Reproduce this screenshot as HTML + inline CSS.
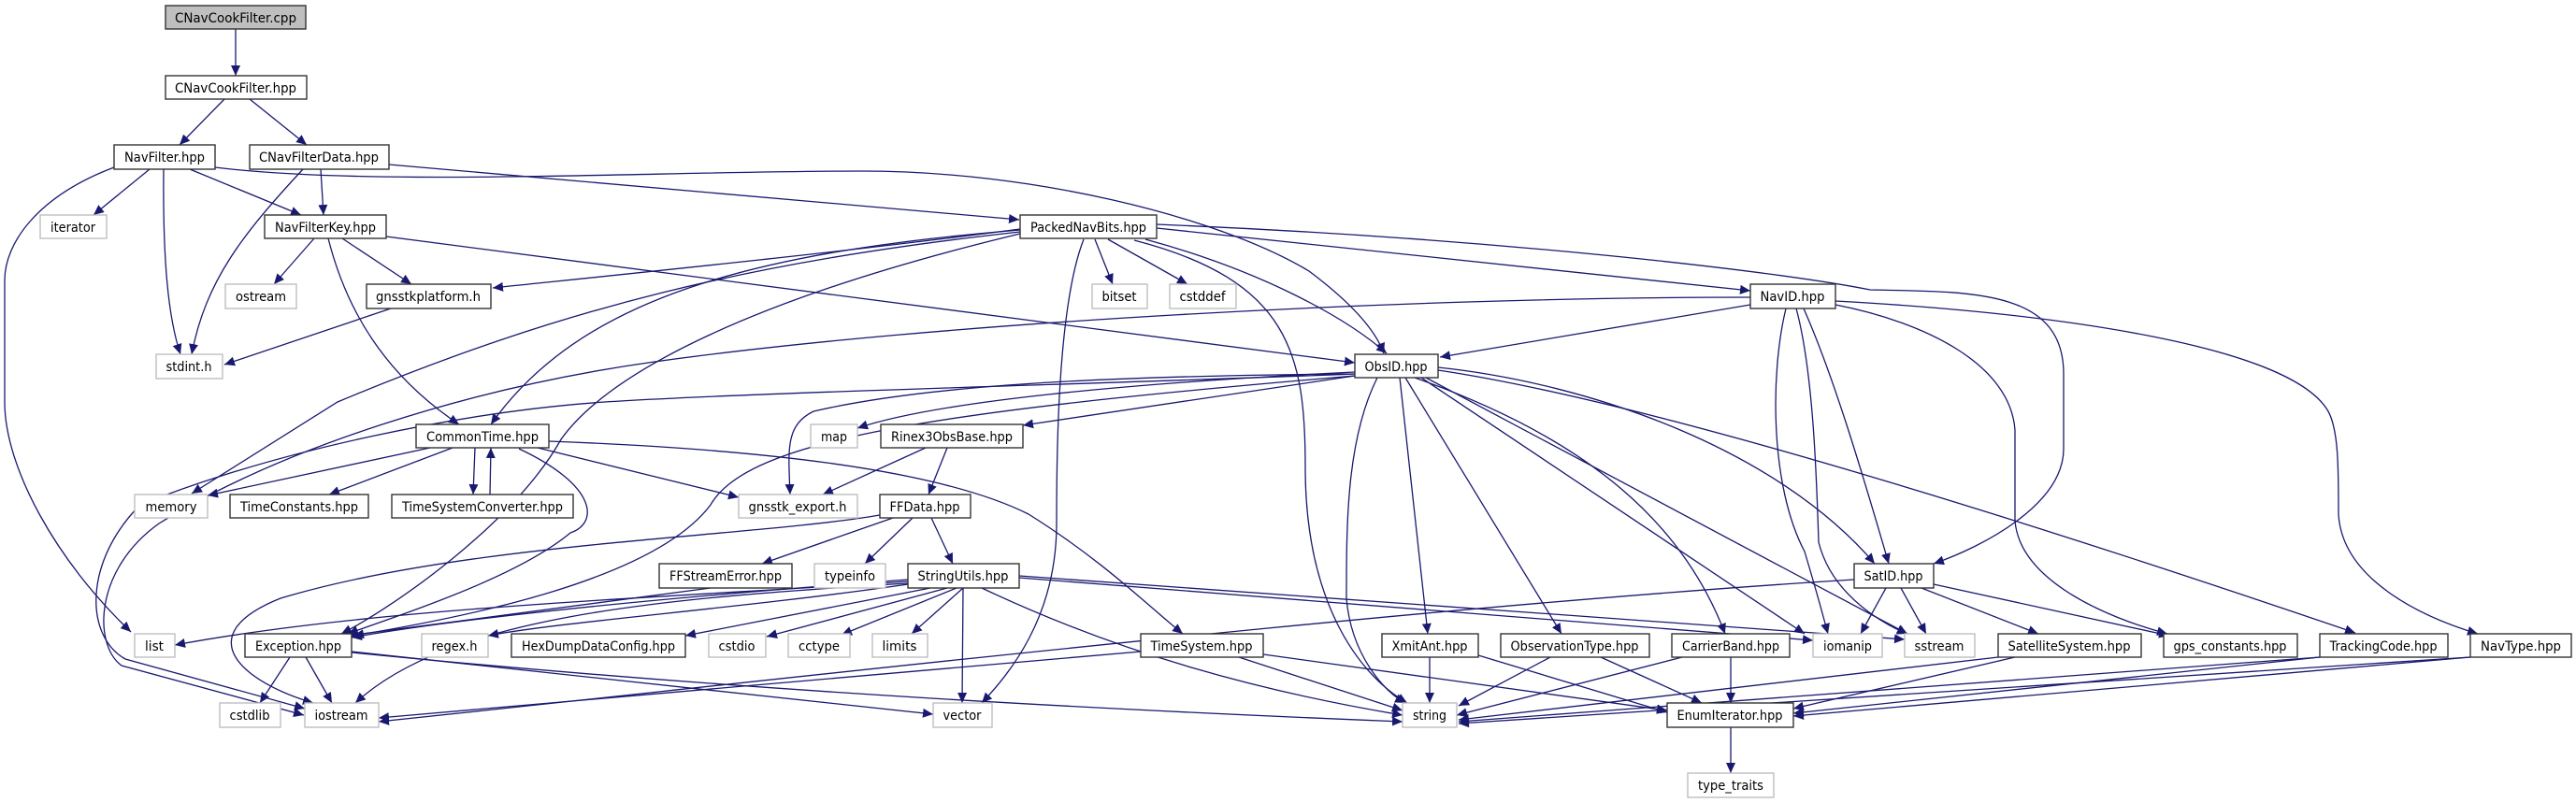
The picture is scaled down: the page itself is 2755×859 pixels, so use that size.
<!DOCTYPE html>
<html><head><meta charset="utf-8"><style>
html,body{margin:0;padding:0;background:#fff;}
svg{display:block;}
text{font-family:"DejaVu Sans","Liberation Sans",sans-serif;font-size:14px;fill:#000;}
.e{fill:none;stroke:#191970;stroke-width:1.3;marker-end:url(#ah);}
.n{fill:#fff;stroke:#333;stroke-width:1.4;}
.g{fill:#fff;stroke:#bfbfbf;stroke-width:1.4;}
</style></head><body>
<svg width="2755" height="859" viewBox="0 0 2755 859" xmlns="http://www.w3.org/2000/svg">
<defs><marker id="ah" markerUnits="userSpaceOnUse" markerWidth="14" markerHeight="12" refX="11" refY="5" orient="auto"><path d="M0,0 L11,5 L0,10 z" fill="#191970"/></marker></defs>
<g>
<path class="e" d="M252,31 L252,81"/>
<path class="e" d="M240,106 L192,155"/>
<path class="e" d="M267,106 L328,155"/>
<path class="e" d="M160,181 L100,230"/>
<path class="e" d="M175,181 C174,280 180,340 193,379"/>
<path class="e" d="M203,181 L322,230"/>
<path class="e" d="M122,179 C40,210 5,260 5,300 L5,430 C5,500 60,600 140,676"/>
<path class="e" d="M230,179 C400,200 700,183 923,183 C1100,183 1300,230 1400,290 C1440,320 1470,350 1480,378"/>
<path class="e" d="M343,181 L346,230"/>
<path class="e" d="M324,181 C260,250 220,300 205,379"/>
<path class="e" d="M416,176 L1090,235"/>
<path class="e" d="M336,255 L293,304"/>
<path class="e" d="M366,255 L440,304"/>
<path class="e" d="M351,255 C370,330 410,400 491,454"/>
<path class="e" d="M413,253 L1449,388"/>
<path class="e" d="M418,330 L240,390"/>
<path class="e" d="M1091,245 C900,270 700,290 527,308"/>
<path class="e" d="M1091,246 C800,270 620,320 525,454"/>
<path class="e" d="M1091,250 C800,320 650,400 600,470 C550,560 420,650 365,678"/>
<path class="e" d="M1091,248 C800,280 600,330 361,430 L205,528"/>
<path class="e" d="M1171,256 L1190,304"/>
<path class="e" d="M1185,256 L1270,304"/>
<path class="e" d="M1159,256 C1130,330 1130,500 1130,560 C1130,660 1080,720 1050,752"/>
<path class="e" d="M1213,257 C1380,300 1396,380 1396,500 C1396,640 1450,720 1505,752"/>
<path class="e" d="M1225,256 C1350,290 1440,340 1483,378"/>
<path class="e" d="M1237,244 L1872,311"/>
<path class="e" d="M1237,240 C1600,255 1900,290 2000,310 C2110,312 2207,310 2207,400 L2207,480 C2207,540 2120,585 2068,603"/>
<path class="e" d="M1872,326 L1540,382"/>
<path class="e" d="M1872,318 C1500,318 1000,345 700,387 C500,415 300,480 170,560 C100,610 100,690 130,712 L325,765"/>
<path class="e" d="M1449,400 C1200,410 800,420 647,430 C500,440 300,480 150,540 C90,600 90,680 134,705 L326,758"/>
<path class="e" d="M1910,330 C1893,400 1893,520 1930,590 C1945,640 1950,660 1955,678"/>
<path class="e" d="M1921,330 C1940,400 1943,520 1945,580 C1960,640 2020,670 2040,678"/>
<path class="e" d="M1929,330 C1960,400 1990,500 2020,603"/>
<path class="e" d="M1963,326 C2060,345 2150,390 2155,460 L2155,557 C2160,620 2250,660 2318,678"/>
<path class="e" d="M1963,322 C2200,335 2450,370 2490,440 C2501,460 2501,500 2501,550 C2505,620 2590,660 2650,678"/>
<path class="e" d="M1449,398 C1200,410 1000,430 917,458"/>
<path class="e" d="M1449,402 L1094,455"/>
<path class="e" d="M1449,400 C1200,402 1000,410 870,440 C840,455 843,480 845,529"/>
<path class="e" d="M1449,402 C1000,440 800,470 760,540 C700,620 500,660 378,680"/>
<path class="e" d="M1473,404 C1440,470 1440,560 1440,640 C1445,700 1480,740 1503,752"/>
<path class="e" d="M1497,404 L1527,678"/>
<path class="e" d="M1503,404 L1670,678"/>
<path class="e" d="M1513,404 C1700,470 1800,560 1845,678"/>
<path class="e" d="M1520,404 L1930,678"/>
<path class="e" d="M1525,404 L2040,678"/>
<path class="e" d="M1538,393 C1700,410 1900,480 2005,603"/>
<path class="e" d="M1538,396 C1700,420 2000,500 2519,677"/>
<path class="e" d="M460,479 L222,530"/>
<path class="e" d="M484,479 L352,529"/>
<path class="e" d="M508,479 L506,529"/>
<path class="e" d="M524,529 L525,479"/>
<path class="e" d="M575,479 L790,532"/>
<path class="e" d="M555,480 C640,520 640,560 610,570 C550,620 420,660 372,678"/>
<path class="e" d="M587,472 C800,480 1000,500 1100,550 C1180,600 1230,650 1265,678"/>
<path class="e" d="M990,479 L880,529"/>
<path class="e" d="M1013,479 L993,529"/>
<path class="e" d="M955,554 L815,603"/>
<path class="e" d="M976,554 L925,603"/>
<path class="e" d="M996,554 L1019,603"/>
<path class="e" d="M941,551 C800,575 500,580 300,640 C200,680 260,730 335,752"/>
<path class="e" d="M760,629 L372,680"/>
<path class="e" d="M971,620 C700,640 500,660 376,682"/>
<path class="e" d="M971,622 C700,640 400,650 187,690"/>
<path class="e" d="M971,625 C800,650 600,665 522,680"/>
<path class="e" d="M995,629 L733,680"/>
<path class="e" d="M1013,629 L820,681"/>
<path class="e" d="M1023,629 L900,679"/>
<path class="e" d="M1030,629 L975,678"/>
<path class="e" d="M1030,629 L1029,752"/>
<path class="e" d="M1050,629 C1200,700 1350,740 1500,765"/>
<path class="e" d="M971,624 C700,640 480,660 380,752"/>
<path class="e" d="M1090,618 L1939,685"/>
<path class="e" d="M1090,616 L2037,684"/>
<path class="e" d="M310,703 L278,752"/>
<path class="e" d="M327,703 L355,752"/>
<path class="e" d="M376,697 L998,764"/>
<path class="e" d="M376,698 C800,740 1200,760 1500,772"/>
<path class="e" d="M1220,697 L405,768"/>
<path class="e" d="M1983,620 C1500,650 900,720 405,772"/>
<path class="e" d="M1325,703 L1500,760"/>
<path class="e" d="M1351,700 L1783,760"/>
<path class="e" d="M1529,703 L1529,752"/>
<path class="e" d="M1581,701 L1783,762"/>
<path class="e" d="M1658,703 L1560,755"/>
<path class="e" d="M1712,703 L1820,752"/>
<path class="e" d="M1799,703 L1558,765"/>
<path class="e" d="M1851,703 L1851,752"/>
<path class="e" d="M2017,629 L1990,678"/>
<path class="e" d="M2033,629 L2060,678"/>
<path class="e" d="M2055,629 L2180,678"/>
<path class="e" d="M2068,625 L2320,680"/>
<path class="e" d="M2137,703 L1560,770"/>
<path class="e" d="M2155,703 L1918,758"/>
<path class="e" d="M2481,703 L1560,772"/>
<path class="e" d="M2481,703 L1918,763"/>
<path class="e" d="M2642,703 L1560,774"/>
<path class="e" d="M2642,703 L1918,766"/>
<path class="e" d="M1851,778 L1851,827"/>
</g>
<g>
<rect x="177" y="6" width="150" height="25" fill="#bfbfbf" stroke="#333" stroke-width="1.4"/><text x="252" y="24" text-anchor="middle" textLength="130" lengthAdjust="spacingAndGlyphs">CNavCookFilter.cpp</text>
<rect class="n" x="177" y="81" width="151" height="25"/><text x="252" y="99" text-anchor="middle" textLength="130" lengthAdjust="spacingAndGlyphs">CNavCookFilter.hpp</text>
<rect class="n" x="122" y="155" width="108" height="26"/><text x="176" y="173" text-anchor="middle" textLength="86" lengthAdjust="spacingAndGlyphs">NavFilter.hpp</text>
<rect class="n" x="267" y="155" width="149" height="26"/><text x="341" y="173" text-anchor="middle" textLength="128" lengthAdjust="spacingAndGlyphs">CNavFilterData.hpp</text>
<rect class="g" x="43" y="230" width="71" height="25"/><text x="78" y="248" text-anchor="middle" textLength="48" lengthAdjust="spacingAndGlyphs">iterator</text>
<rect class="n" x="283" y="230" width="130" height="25"/><text x="348" y="248" text-anchor="middle" textLength="108" lengthAdjust="spacingAndGlyphs">NavFilterKey.hpp</text>
<rect class="g" x="241" y="304" width="76" height="26"/><text x="279" y="322" text-anchor="middle" textLength="54" lengthAdjust="spacingAndGlyphs">ostream</text>
<rect class="n" x="392" y="304" width="133" height="26"/><text x="458" y="322" text-anchor="middle" textLength="112" lengthAdjust="spacingAndGlyphs">gnsstkplatform.h</text>
<rect class="g" x="167" y="379" width="71" height="26"/><text x="202" y="397" text-anchor="middle" textLength="49" lengthAdjust="spacingAndGlyphs">stdint.h</text>
<rect class="n" x="445" y="454" width="142" height="25"/><text x="516" y="472" text-anchor="middle" textLength="120" lengthAdjust="spacingAndGlyphs">CommonTime.hpp</text>
<rect class="g" x="144" y="529" width="78" height="25"/><text x="183" y="547" text-anchor="middle" textLength="55" lengthAdjust="spacingAndGlyphs">memory</text>
<rect class="n" x="246" y="529" width="148" height="25"/><text x="320" y="547" text-anchor="middle" textLength="126" lengthAdjust="spacingAndGlyphs">TimeConstants.hpp</text>
<rect class="n" x="419" y="529" width="194" height="25"/><text x="516" y="547" text-anchor="middle" textLength="172" lengthAdjust="spacingAndGlyphs">TimeSystemConverter.hpp</text>
<rect class="g" x="144" y="678" width="43" height="25"/><text x="165" y="696" text-anchor="middle" textLength="20" lengthAdjust="spacingAndGlyphs">list</text>
<rect class="n" x="262" y="678" width="114" height="25"/><text x="319" y="696" text-anchor="middle" textLength="92" lengthAdjust="spacingAndGlyphs">Exception.hpp</text>
<rect class="g" x="451" y="678" width="71" height="25"/><text x="486" y="696" text-anchor="middle" textLength="49" lengthAdjust="spacingAndGlyphs">regex.h</text>
<rect class="n" x="547" y="678" width="186" height="25"/><text x="640" y="696" text-anchor="middle" textLength="164" lengthAdjust="spacingAndGlyphs">HexDumpDataConfig.hpp</text>
<rect class="g" x="235" y="752" width="65" height="26"/><text x="267" y="770" text-anchor="middle" textLength="43" lengthAdjust="spacingAndGlyphs">cstdlib</text>
<rect class="g" x="326" y="752" width="79" height="26"/><text x="365" y="770" text-anchor="middle" textLength="57" lengthAdjust="spacingAndGlyphs">iostream</text>
<rect class="n" x="1091" y="230" width="146" height="25"/><text x="1164" y="248" text-anchor="middle" textLength="124" lengthAdjust="spacingAndGlyphs">PackedNavBits.hpp</text>
<rect class="g" x="1168" y="304" width="59" height="26"/><text x="1197" y="322" text-anchor="middle" textLength="37" lengthAdjust="spacingAndGlyphs">bitset</text>
<rect class="g" x="1251" y="304" width="71" height="26"/><text x="1286" y="322" text-anchor="middle" textLength="49" lengthAdjust="spacingAndGlyphs">cstddef</text>
<rect class="g" x="867" y="454" width="50" height="25"/><text x="892" y="472" text-anchor="middle" textLength="28" lengthAdjust="spacingAndGlyphs">map</text>
<rect class="n" x="942" y="454" width="152" height="25"/><text x="1018" y="472" text-anchor="middle" textLength="130" lengthAdjust="spacingAndGlyphs">Rinex3ObsBase.hpp</text>
<rect class="g" x="790" y="529" width="127" height="25"/><text x="853" y="547" text-anchor="middle" textLength="105" lengthAdjust="spacingAndGlyphs">gnsstk_export.h</text>
<rect class="n" x="941" y="529" width="97" height="25"/><text x="989" y="547" text-anchor="middle" textLength="75" lengthAdjust="spacingAndGlyphs">FFData.hpp</text>
<rect class="n" x="705" y="603" width="142" height="26"/><text x="776" y="621" text-anchor="middle" textLength="120" lengthAdjust="spacingAndGlyphs">FFStreamError.hpp</text>
<rect class="g" x="871" y="603" width="76" height="26"/><text x="909" y="621" text-anchor="middle" textLength="54" lengthAdjust="spacingAndGlyphs">typeinfo</text>
<rect class="n" x="971" y="603" width="119" height="26"/><text x="1030" y="621" text-anchor="middle" textLength="97" lengthAdjust="spacingAndGlyphs">StringUtils.hpp</text>
<rect class="g" x="758" y="678" width="61" height="25"/><text x="788" y="696" text-anchor="middle" textLength="39" lengthAdjust="spacingAndGlyphs">cstdio</text>
<rect class="g" x="843" y="678" width="66" height="25"/><text x="876" y="696" text-anchor="middle" textLength="44" lengthAdjust="spacingAndGlyphs">cctype</text>
<rect class="g" x="933" y="678" width="59" height="25"/><text x="962" y="696" text-anchor="middle" textLength="37" lengthAdjust="spacingAndGlyphs">limits</text>
<rect class="n" x="1220" y="678" width="131" height="25"/><text x="1285" y="696" text-anchor="middle" textLength="109" lengthAdjust="spacingAndGlyphs">TimeSystem.hpp</text>
<rect class="g" x="998" y="752" width="63" height="26"/><text x="1029" y="770" text-anchor="middle" textLength="41" lengthAdjust="spacingAndGlyphs">vector</text>
<rect class="n" x="1872" y="304" width="91" height="26"/><text x="1917" y="322" text-anchor="middle" textLength="69" lengthAdjust="spacingAndGlyphs">NavID.hpp</text>
<rect class="n" x="1449" y="379" width="89" height="25"/><text x="1493" y="397" text-anchor="middle" textLength="67" lengthAdjust="spacingAndGlyphs">ObsID.hpp</text>
<rect class="n" x="1983" y="603" width="85" height="26"/><text x="2025" y="621" text-anchor="middle" textLength="63" lengthAdjust="spacingAndGlyphs">SatID.hpp</text>
<rect class="n" x="1478" y="678" width="103" height="25"/><text x="1529" y="696" text-anchor="middle" textLength="81" lengthAdjust="spacingAndGlyphs">XmitAnt.hpp</text>
<rect class="n" x="1605" y="678" width="159" height="25"/><text x="1684" y="696" text-anchor="middle" textLength="137" lengthAdjust="spacingAndGlyphs">ObservationType.hpp</text>
<rect class="n" x="1788" y="678" width="126" height="25"/><text x="1851" y="696" text-anchor="middle" textLength="104" lengthAdjust="spacingAndGlyphs">CarrierBand.hpp</text>
<rect class="g" x="1939" y="678" width="74" height="25"/><text x="1976" y="696" text-anchor="middle" textLength="52" lengthAdjust="spacingAndGlyphs">iomanip</text>
<rect class="g" x="2037" y="678" width="75" height="25"/><text x="2074" y="696" text-anchor="middle" textLength="53" lengthAdjust="spacingAndGlyphs">sstream</text>
<rect class="n" x="2137" y="678" width="153" height="25"/><text x="2213" y="696" text-anchor="middle" textLength="131" lengthAdjust="spacingAndGlyphs">SatelliteSystem.hpp</text>
<rect class="n" x="2314" y="678" width="143" height="25"/><text x="2385" y="696" text-anchor="middle" textLength="121" lengthAdjust="spacingAndGlyphs">gps_constants.hpp</text>
<rect class="n" x="2481" y="678" width="137" height="25"/><text x="2549" y="696" text-anchor="middle" textLength="115" lengthAdjust="spacingAndGlyphs">TrackingCode.hpp</text>
<rect class="n" x="2642" y="678" width="108" height="25"/><text x="2696" y="696" text-anchor="middle" textLength="86" lengthAdjust="spacingAndGlyphs">NavType.hpp</text>
<rect class="g" x="1500" y="752" width="58" height="26"/><text x="1529" y="770" text-anchor="middle" textLength="36" lengthAdjust="spacingAndGlyphs">string</text>
<rect class="n" x="1783" y="752" width="135" height="26"/><text x="1850" y="770" text-anchor="middle" textLength="113" lengthAdjust="spacingAndGlyphs">EnumIterator.hpp</text>
<rect class="g" x="1805" y="827" width="92" height="26"/><text x="1851" y="845" text-anchor="middle" textLength="70" lengthAdjust="spacingAndGlyphs">type_traits</text>
</g>
</svg>
</body></html>
